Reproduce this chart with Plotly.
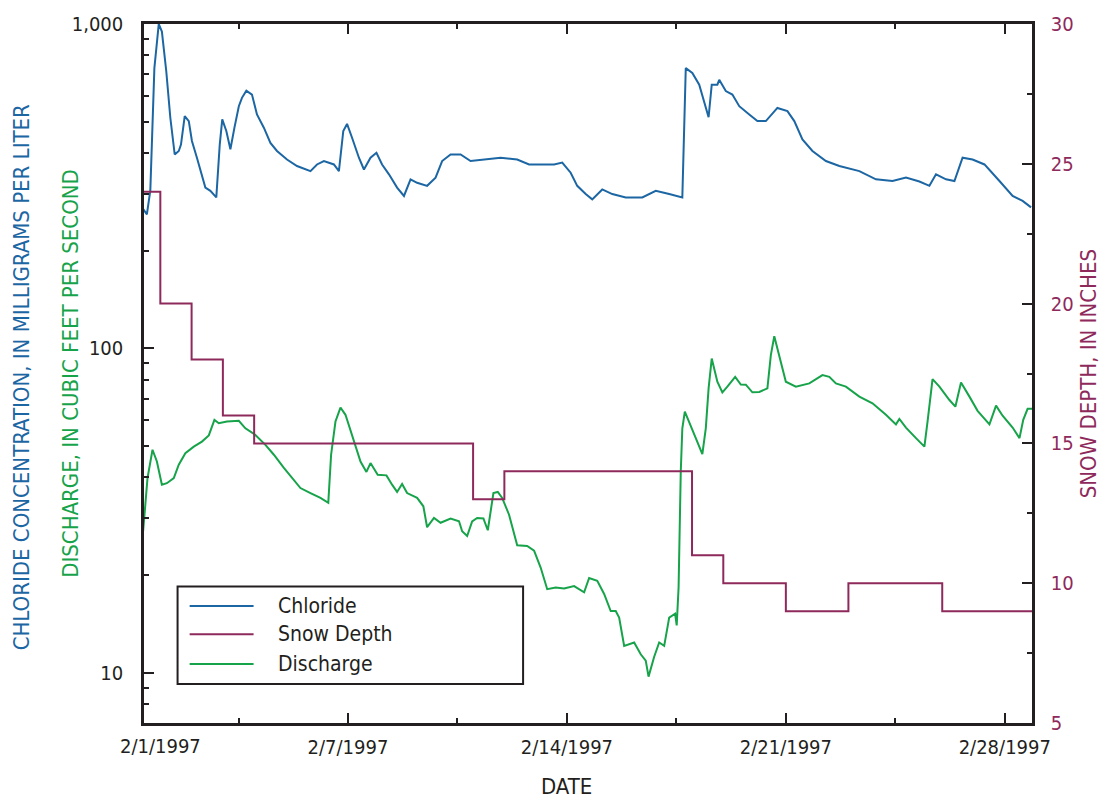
import datetime as dt
import plotly.graph_objects as go

# ---- data (time = day of February 1997, fractional) ----
chl_t = [0.45, 0.57, 0.68, 0.81, 0.95, 1.05, 1.19, 1.32, 1.46, 1.59, 1.66, 1.78, 1.91, 2.01, 2.17, 2.33,
         2.44, 2.60, 2.79, 2.90, 2.98, 3.11, 3.24, 3.37, 3.51, 3.61, 3.75, 3.93, 4.09, 4.31, 4.52, 4.73,
         5.05, 5.37, 5.80, 6.01, 6.23, 6.55, 6.71, 6.85, 6.97, 7.13, 7.35, 7.51, 7.72, 7.91, 8.09, 8.31,
         8.57, 8.79, 9.00, 9.21, 9.53, 9.80, 10.01, 10.28, 10.60, 10.92, 11.35, 11.88, 12.41, 12.79,
         13.16, 13.59, 13.85, 14.12, 14.33, 14.60, 14.81, 15.13, 15.45, 15.88, 16.41, 16.84, 17.27,
         17.69, 17.80, 18.01, 18.23, 18.39, 18.53, 18.63, 18.81, 18.87, 19.08, 19.29, 19.51, 19.83,
         20.09, 20.36, 20.73, 21.05, 21.27, 21.53, 21.85, 22.28, 22.71, 23.35, 23.88, 24.41, 24.84,
         25.27, 25.59, 25.80, 26.12, 26.39, 26.65, 26.97, 27.35, 27.83, 28.25, 28.57, 28.84]
chl_v = [269, 259, 307, 731, 1000, 948, 715, 514, 396, 406, 425, 520, 502, 436, 387, 344,
         313, 306, 292, 425, 508, 468, 411, 479, 558, 592, 623, 606, 526, 479, 430, 406,
         382, 365, 352, 369, 378, 369, 352, 468, 492, 446, 387, 356, 387, 401, 369, 344,
         313, 295, 332, 324, 317, 336, 378, 396, 396, 378, 382, 387, 382, 369,
         369, 369, 374, 348, 317, 299, 288, 309, 299, 292, 292, 306, 299,
         292, 731, 706, 650, 578, 516, 650, 650, 673, 621, 606, 558, 526,
         502, 502, 551, 539, 502, 441, 406, 378, 365, 352, 332, 328, 336,
         327, 317, 344, 332, 328, 387, 382, 369, 328, 295, 285, 272]

q_t = [0.45, 0.59, 0.75, 0.89, 1.05, 1.21, 1.43, 1.59, 1.80, 2.07, 2.33, 2.55, 2.73, 2.87, 3.13, 3.51,
       3.72, 4.04, 4.36, 4.63, 4.95, 5.27, 5.48, 5.80, 6.12, 6.37, 6.46, 6.60, 6.76, 6.92, 7.19, 7.40,
       7.59, 7.72, 7.95, 8.23, 8.41, 8.57, 8.73, 8.89, 9.21, 9.41, 9.53, 9.75, 9.96, 10.28, 10.55,
       10.65, 10.81, 10.97, 11.13, 11.33, 11.47, 11.65, 11.79, 11.93, 12.15, 12.41, 12.73, 12.95,
       13.16, 13.37, 13.64, 13.91, 14.23, 14.55, 14.71, 14.97, 15.19, 15.40, 15.56, 15.67, 15.83,
       16.15, 16.36, 16.52, 16.61, 16.79, 16.95, 17.11, 17.27, 17.46, 17.51, 17.57, 17.64, 17.69,
       17.77, 17.91, 18.12, 18.33, 18.44, 18.53, 18.63, 18.81, 18.97, 19.13, 19.38, 19.56, 19.72,
       19.93, 20.15, 20.41, 20.52, 20.63, 20.79, 21.00, 21.32, 21.75, 22.17, 22.39, 22.60, 22.92,
       23.35, 23.77, 24.20, 24.52, 24.63, 24.84, 25.16, 25.43, 25.53, 25.69, 25.91, 26.23, 26.42,
       26.60, 26.87, 27.13, 27.51, 27.72, 27.93, 28.25, 28.47, 28.59, 28.73, 28.87]
q_v = [27.3, 39.8, 48.7, 44.8, 38.0, 38.4, 39.8, 43.8, 47.5, 49.8, 51.6, 53.9, 60.2, 58.8, 59.5, 59.8,
       56.7, 54.1, 50.4, 47.0, 42.8, 39.4, 37.1, 35.8, 34.6, 33.4, 47.0, 59.5, 65.7, 62.4, 51.6, 44.8,
       41.6, 44.3, 40.8, 40.6, 38.0, 36.1, 38.2, 35.8, 34.6, 32.6, 28.1, 30.0, 29.0, 29.9, 29.3,
       27.3, 26.4, 29.3, 30.0, 29.9, 27.5, 35.8, 36.1, 34.6, 30.7, 24.7, 24.6, 23.8,
       21.1, 18.1, 18.3, 18.2, 18.5, 17.7, 19.6, 19.2, 17.5, 15.5, 15.5, 14.8, 12.1,
       12.4, 11.4, 10.9, 9.73, 11.2, 12.4, 12.1, 14.8, 15.2, 14.0, 18.3, 41.8, 56.7,
       63.8, 59.5, 52.9, 47.2, 56.7, 75.3, 93.0, 78.9, 73.2, 76.2, 81.7, 77.4, 77.3,
       73.2, 73.4, 75.3, 95.3, 109, 95.3, 78.9, 76.2, 78.0, 82.7, 81.7, 78.0, 76.2,
       71.0, 67.7, 62.4, 58.3, 60.6, 57.0, 52.9, 49.8, 59.5, 80.4, 76.2, 69.3, 66.1,
       78.5, 71.0, 64.2, 58.3, 66.6, 62.0, 57.0, 52.9, 60.2, 65.1, 65.1]

snow_t = [0.45, 1, 2, 3, 4, 11, 12, 18, 19, 21, 23, 26, 28.9]
snow_v = [24, 20, 18, 16, 15, 13, 14, 11, 10, 9, 10, 9, 9]

left_tickvals = [10, 100, 1000]
left_ticktext = ["10", "100", "1,000"]
left_minor = [7, 8, 9, 20, 30, 40, 50, 60, 70, 80, 90, 200, 300, 400, 500, 600, 700, 800, 900]
right_tickvals = [5, 10, 15, 20, 25, 30]
right_minor = [7.5, 12.5, 17.5, 22.5, 27.5]

BASE = dt.datetime(1997, 1, 31)


def to_dt(t):
    return BASE + dt.timedelta(days=t)


C_BLUE = "#1c66a3"
C_MAROON = "#8e2a5b"
C_GREEN = "#17a34a"
C_AX = "#231f20"
FONT = "Liberation Sans Narrow, Arial Narrow, DejaVu Sans Condensed, sans-serif"
TICK = 20

fig = go.Figure()
fig.add_trace(go.Scatter(x=[to_dt(t) for t in chl_t], y=chl_v, mode="lines",
                         line=dict(color=C_BLUE, width=2), name="Chloride", yaxis="y"))
fig.add_trace(go.Scatter(x=[to_dt(t) for t in snow_t], y=snow_v, mode="lines",
                         line=dict(color=C_MAROON, width=2, shape="hv"), name="Snow Depth", yaxis="y2"))
fig.add_trace(go.Scatter(x=[to_dt(t) for t in q_t], y=q_v, mode="lines",
                         line=dict(color=C_GREEN, width=2), name="Discharge", yaxis="y"))

DAY = 86400000
fig.update_layout(
    width=1103, height=798,
    margin=dict(l=144, r=71, t=21, b=75),
    paper_bgcolor="white", plot_bgcolor="white",
    showlegend=False,
    font=dict(family=FONT, size=TICK, color=C_AX),
    xaxis=dict(
        type="date", range=[to_dt(0.478), to_dt(28.87)],
        tickmode="linear", tick0="1997-02-07", dtick=7 * DAY, tickformat="%-m/%-d/%Y",
        ticks="inside", ticklen=10, tickwidth=2, tickcolor=C_AX,
        showline=True, linewidth=2.5, linecolor=C_AX, mirror="ticks",
        showgrid=False, zeroline=False,
        minor=dict(ticks="inside", ticklen=5, tickwidth=2, tickcolor=C_AX,
                   tick0="1997-02-07", dtick=3.5 * DAY, showgrid=False),
        tickfont=dict(size=TICK, color=C_AX), ticklabelstandoff=4,
    ),
    yaxis=dict(
        type="log", range=[0.8451, 3],
        tickmode="array", tickvals=left_tickvals, ticktext=left_ticktext,
        ticks="inside", ticklen=10, tickwidth=2, tickcolor=C_AX,
        showline=True, linewidth=2.5, linecolor=C_AX, mirror=False,
        showgrid=False, zeroline=False,
        minor=dict(ticks="inside", ticklen=5, tickwidth=2, tickcolor=C_AX,
                   tickmode="array", tickvals=left_minor, showgrid=False),
        tickfont=dict(size=TICK, color=C_AX), ticklabelstandoff=14,
    ),
    yaxis2=dict(
        overlaying="y", side="right", range=[5, 30],
        tickmode="array", tickvals=right_tickvals,
        ticks="inside", ticklen=10, tickwidth=2, tickcolor=C_AX,
        showline=True, linewidth=2.5, linecolor=C_AX,
        showgrid=False, zeroline=False,
        minor=dict(ticks="inside", ticklen=5, tickwidth=2, tickcolor=C_AX,
                   tickmode="array", tickvals=right_minor, showgrid=False),
        tickfont=dict(size=TICK, color=C_MAROON), ticklabelstandoff=12,
    ),
)

# 2/1/1997 label (not a tick mark in the original)
fig.add_annotation(x=to_dt(1), xref="x", y=0, yref="paper", yanchor="top", yshift=-9,
                   text="2/1/1997", showarrow=False, font=dict(size=TICK, color=C_AX))

# axis titles
fig.add_annotation(x=-0.137, y=0.495, xref="paper", yref="paper", textangle=-90,
                   text="CHLORIDE CONCENTRATION, IN MILLIGRAMS PER LITER", showarrow=False,
                   xanchor="center", yanchor="middle", font=dict(size=22, color=C_BLUE))
fig.add_annotation(x=-0.083, y=0.5, xref="paper", yref="paper", textangle=-90,
                   text="DISCHARGE, IN CUBIC FEET PER SECOND", showarrow=False,
                   xanchor="center", yanchor="middle", font=dict(size=22, color=C_GREEN))
fig.add_annotation(x=1.064, y=0.5, xref="paper", yref="paper", textangle=-90,
                   text="SNOW DEPTH, IN INCHES", showarrow=False,
                   xanchor="center", yanchor="middle", font=dict(size=22, color=C_MAROON))
fig.add_annotation(x=to_dt(14), xref="x", y=-0.091, yref="paper", text="DATE", showarrow=False,
                   xanchor="center", yanchor="middle", font=dict(size=22, color=C_AX))

# manual legend
fig.add_shape(type="rect", xref="paper", yref="paper", x0=0.0378, x1=0.4269, y0=0.0559, y1=0.1954,
              line=dict(color=C_AX, width=2), fillcolor="white", layer="above")
leg = [("Chloride", C_BLUE, 0.1674), ("Snow Depth", C_MAROON, 0.1271), ("Discharge", C_GREEN, 0.0844)]
for name, col, yy in leg:
    fig.add_shape(type="line", xref="paper", yref="paper", x0=0.0514, x1=0.1234, y0=yy, y1=yy,
                  line=dict(color=col, width=2), layer="above")
    fig.add_annotation(x=0.149, y=yy, xref="paper", yref="paper", text=name, showarrow=False,
                       xanchor="left", yanchor="middle", font=dict(size=21, color=C_AX))

fig.write_html("out.html", config={"displayModeBar": False},
               post_script="document.body.style.margin='0';document.body.style.overflow='hidden';")
